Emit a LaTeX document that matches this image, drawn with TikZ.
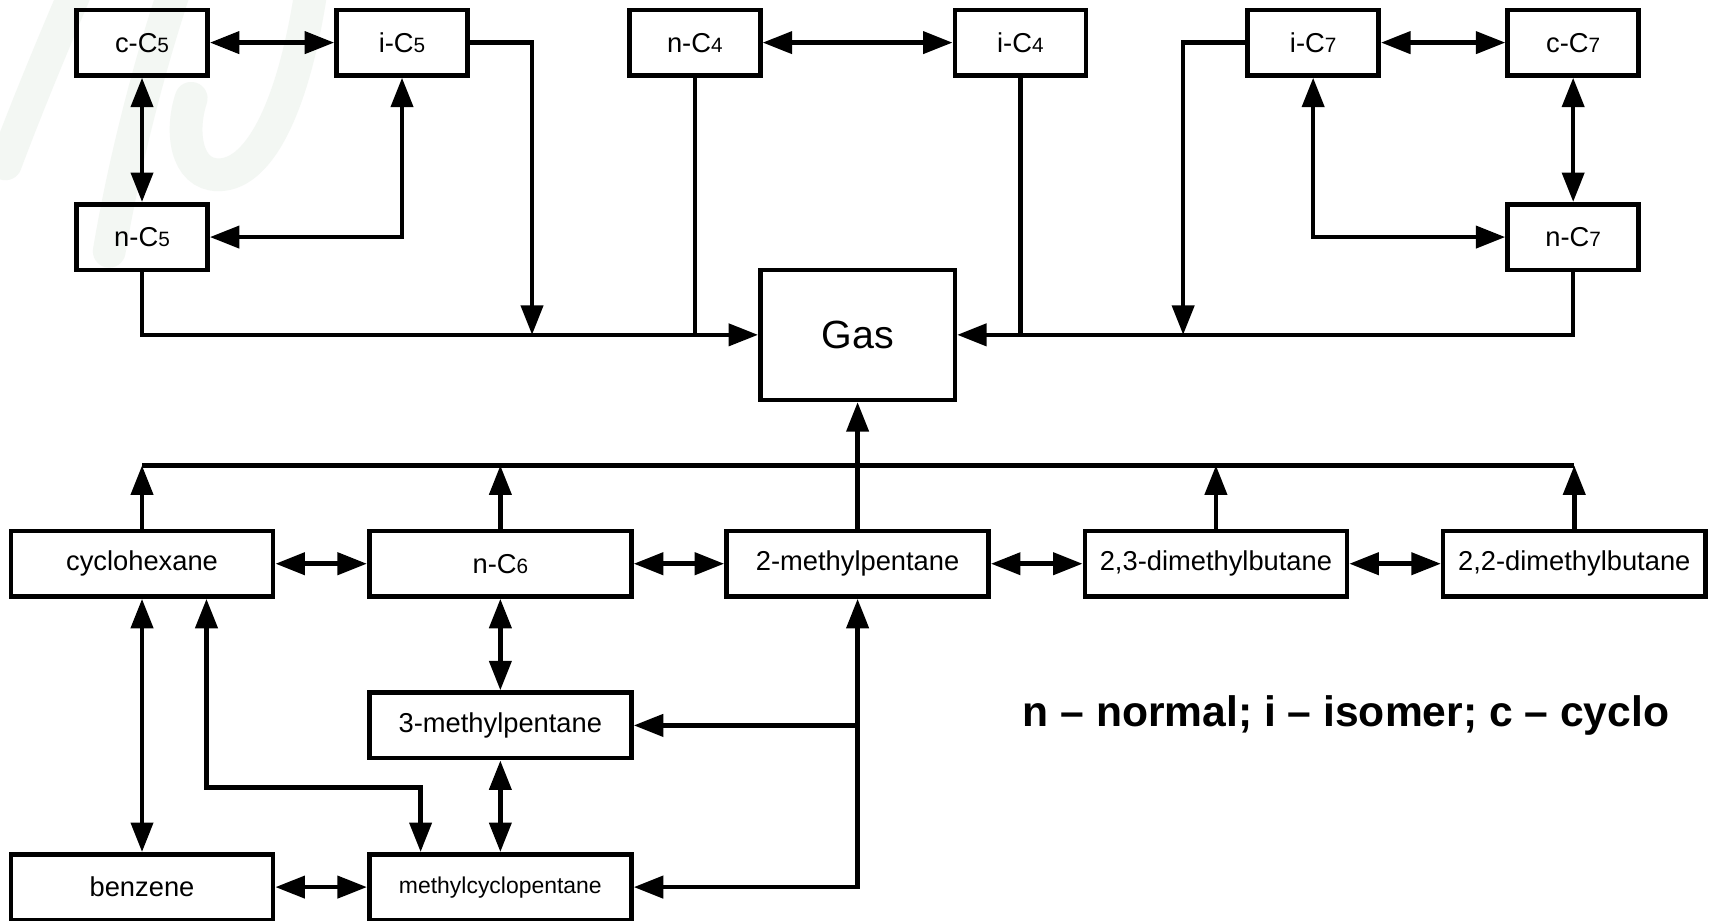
\documentclass[tikz,border=0pt]{standalone}
\usepackage{fontspec}
\setmainfont{Liberation Sans}
\usetikzlibrary{arrows.meta}
\newcommand{\sdg}[1]{{\fontsize{19}{20}\selectfont #1}}
\definecolor{wmark}{RGB}{243,247,243}
\begin{document}
\begin{tikzpicture}[x=1pt,y=-1pt,
  box/.style={draw, line width=4.2pt, minimum width=120pt, minimum height=60pt, inner sep=0pt, font=\fontsize{25}{30}\selectfont},
  widebox/.style={box, minimum width=240pt},
  conn/.style={line width=4.2pt},
  wm/.style={draw=wmark, line width=30pt, line cap=round},
  >={Triangle[length=27pt,width=20pt]}]
\fill[white] (0,0) rectangle (1568,843);
\useasboundingbox (0,0) rectangle (1568,843);
% faint watermark
\draw[wm] (70,-10) .. controls (40,60) and (20,110) .. (5,150);
\draw[wm] (160,-10) .. controls (130,80) and (110,170) .. (100,230);
\draw[wm] (285,-10) .. controls (270,90) and (240,160) .. (200,160) .. controls (170,160) and (165,120) .. (175,90);
% top nodes
\node[box] (cC5) at (130,39) {c-C\sdg{5}};
\node[box] (iC5) at (368,39) {i-C\sdg{5}};
\node[box] (nC5) at (130,217) {n-C\sdg{5}};
\node[box] (nC4) at (636,39) {n-C\sdg{4}};
\node[box] (iC4) at (934,39) {i-C\sdg{4}};
\node[box] (iC7) at (1202,39) {i-C\sdg{7}};
\node[box] (cC7) at (1440,39) {c-C\sdg{7}};
\node[box] (nC7) at (1440,217) {n-C\sdg{7}};
\node[draw, line width=4.2pt, minimum width=178pt, minimum height=119pt, inner sep=0pt, font=\fontsize{36}{40}\selectfont] (gas) at (785,306.5) {Gas};
% bottom nodes
\node[widebox] (cyc) at (130,516) {cyclohexane};
\node[widebox] (nC6) at (458,516) {n-C\sdg{6}};
\node[widebox] (mp2) at (785,516) {2-methylpentane};
\node[widebox] (dmb23) at (1113,516) {2,3-dimethylbutane};
\node[widebox] (dmb22) at (1441,516) {2,2-dimethylbutane};
\node[widebox] (mp3) at (458,664) {3-methylpentane};
\node[widebox] (benz) at (130,812) {benzene};
\node[widebox, font=\fontsize{21}{25}\selectfont] (mcp) at (458,812) {methylcyclopentane};
\node[anchor=base west, inner sep=0pt, font=\bfseries\fontsize{39}{44}\selectfont] (legend) at (936,665) {n – normal; i – isomer; c – cyclo};
% top connectors
\coordinate (j1) at (487,306.5);
\coordinate (j2) at (1083,306.5);
\draw[conn,<->] (cC5) -- (iC5);
\draw[conn,<->] (cC5) -- (nC5);
\draw[conn,<->] (iC5.south) |- (nC5.east);
\draw[conn,->] (iC5.east) -| (j1);
\draw[conn,->] (nC5.south) |- (gas.west);
\draw[conn] (nC4.south) -- (nC4.south |- gas.west);
\draw[conn,<->] (nC4) -- (iC4);
\draw[conn] (iC4.south) -- (iC4.south |- gas.east);
\draw[conn,->] (nC7.south) |- (gas.east);
\draw[conn,->] (iC7.west) -| (j2);
\draw[conn,<->] (iC7) -- (cC7);
\draw[conn,<->] (cC7) -- (nC7);
\draw[conn,<->] (iC7.south) |- (nC7.west);
% bus
\coordinate (busL) at (130,426);
\draw[conn] (busL) -- (busL -| dmb22.north);
\draw[conn,->] (cyc.north) -- (cyc.north |- busL);
\draw[conn,->] (nC6.north) -- (nC6.north |- busL);
\draw[conn,->] (dmb23.north) -- (dmb23.north |- busL);
\draw[conn,->] (dmb22.north) -- (dmb22.north |- busL);
\draw[conn,->] (mp2.north) -- (gas.south);
% bottom row connectors
\draw[conn,<->] (cyc) -- (nC6);
\draw[conn,<->] (nC6) -- (mp2);
\draw[conn,<->] (mp2) -- (dmb23);
\draw[conn,<->] (dmb23) -- (dmb22);
\draw[conn,<->] (nC6) -- (mp3);
\draw[conn,<->] (mp3) -- (mcp);
\draw[conn,<->] (cyc) -- (benz);
\draw[conn,<->] (benz) -- (mcp);
\coordinate (k1) at (189,721);
\coordinate (k2) at (385,721);
\draw[conn,<->] (cyc.south -| k1) -- (k1) -- (k2) -- (k2 |- mcp.north);
\draw[conn,<->] (mcp.east) -| (mp2.south);
\draw[conn,->] (mp2.south |- mp3.east) -- (mp3.east);
\end{tikzpicture}
\end{document}
